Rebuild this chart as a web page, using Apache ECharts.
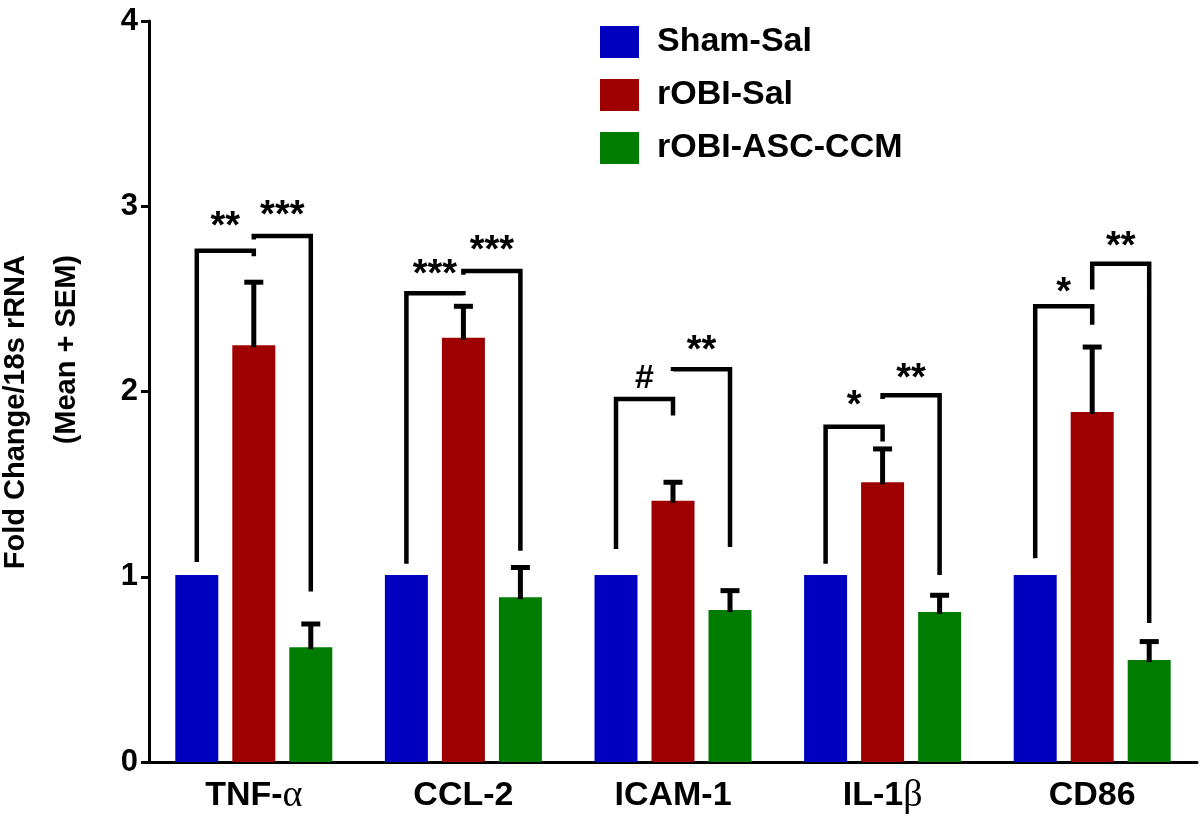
<!DOCTYPE html>
<html>
<head>
<meta charset="utf-8">
<script src="https://cdn.jsdelivr.net/npm/echarts@6/dist/echarts.min.js"></script>
<style>html,body{margin:0;padding:0;background:#fff}#c{width:1200px;height:820px}</style>
</head>
<body>
<div id="c"></div>
<script>
// ---------- data ----------
const categories = ['TNF-α', 'CCL-2', 'ICAM-1', 'IL-1β', 'CD86'];
const seriesNames = ['Sham-Sal', 'rOBI-Sal', 'rOBI-ASC-CCM'];
const shamSal = [1.01, 1.01, 1.01, 1.01, 1.01];
const robiSal = [2.25, 2.29, 1.41, 1.51, 1.89];
const robiSalSEM = [0.34, 0.17, 0.10, 0.18, 0.35];
const robiCCM = [0.62, 0.89, 0.82, 0.81, 0.55];
const robiCCMSEM = [0.125, 0.16, 0.105, 0.09, 0.10];
const yTicks = [0, 1, 2, 3, 4];

// significance brackets: Sham-Sal vs rOBI-Sal
const br1Top = [2.76, 2.53, 1.96, 1.81, 2.46];
const br1LegL = [1.08, 1.07, 1.15, 1.07, 1.10];
const br1LegR = [2.73, 2.52, 1.87, 1.73, 2.36];
const br1Label = ['**', '***', '#', '*', '*'];
const br1LabelY = [2.93, 2.67, 2.07, 1.96, 2.57];
// rOBI-Sal vs rOBI-ASC-CCM
const br2Top = [2.84, 2.65, 2.12, 1.98, 2.69];
const br2LegL = [2.82, 2.63, 2.11, 1.96, 2.55];
const br2LegR = [0.92, 1.14, 1.16, 1.01, 0.75];
const br2Label = ['***', '***', '**', '**', '**'];
const br2LabelY = [2.99, 2.80, 2.26, 2.11, 2.82];

// ---------- style ----------
const FONT = '"Liberation Sans", Arial, sans-serif';
const COLORS = ['#0000BF', '#9E0000', '#007D00'];
const BAR_W = 43, BAR_GAP = 14, CAP = 19;
const STEP = BAR_W + BAR_GAP;

const chart = echarts.init(document.getElementById('c'), null, {renderer: 'canvas'});

function errorRender(slot, means, sems) {
  return function (params, api) {
    const i = params.dataIndex;
    const base = api.coord([i, means[i]]);
    const top = api.coord([i, means[i] + sems[i]]);
    const x = base[0] + slot * STEP;
    const st = {stroke: '#000', lineWidth: 5, lineCap: 'butt'};
    return {type: 'group', children: [
      {type: 'line', shape: {x1: x, y1: base[1] + 2, x2: x, y2: top[1]}, style: st},
      {type: 'line', shape: {x1: x - CAP / 2, y1: top[1], x2: x + CAP / 2, y2: top[1]}, style: st}
    ]};
  };
}

function labelOffset(txt) { return txt.indexOf('*') >= 0 ? 8 : 0; }

function bracketRender(params, api) {
  const i = params.dataIndex;
  const c = api.coord([i, 0]);
  const xB = c[0] - STEP, xR = c[0], xG = c[0] + STEP;
  const y = v => api.coord([i, v])[1];
  const st = {stroke: '#000', lineWidth: 4.5, fill: null, lineJoin: 'miter', lineCap: 'butt'};
  const txt = (t, x, v) => ({
    type: 'text',
    style: {text: t, x: x, y: y(v) + labelOffset(t), align: 'center', verticalAlign: 'middle',
      fontSize: t.indexOf('*') >= 0 ? 38 : 34, fontWeight: 'bold', fontFamily: FONT, fill: '#000'}
  });
  return {type: 'group', children: [
    {type: 'polyline', shape: {points: [[xB, y(br1LegL[i])], [xB, y(br1Top[i])], [xR, y(br1Top[i])], [xR, y(br1LegR[i])]]}, style: st},
    {type: 'polyline', shape: {points: [[xR, y(br2LegL[i])], [xR, y(br2Top[i])], [xG, y(br2Top[i])], [xG, y(br2LegR[i])]]}, style: st},
    txt(br1Label[i], (xB + xR) / 2, br1LabelY[i]),
    txt(br2Label[i], (xR + xG) / 2, br2LabelY[i])
  ]};
}

const idx = categories.map((_, i) => i);

chart.setOption({
  animation: false,
  backgroundColor: '#fff',
  grid: {left: 149, right: 3, top: 21, bottom: 58, containLabel: false, outerBoundsMode: 'none'},
  legend: {
    orient: 'vertical', left: 595, top: 20, itemWidth: 39, itemHeight: 32, itemGap: 19,
    icon: 'rect', data: seriesNames, selectedMode: false,
    textStyle: {fontSize: 34, fontWeight: 'bold', fontFamily: FONT, color: '#000', lineHeight: 32, padding: [0, 0, 0, 13]}
  },
  xAxis: {
    type: 'category', data: categories,
    axisLine: {lineStyle: {color: '#000', width: 3}},
    axisTick: {alignWithLabel: true, length: 8, lineStyle: {color: '#000', width: 3}},
    axisLabel: {
      margin: 14, interval: 0,
      formatter: function (v) {
        const m = v.match(/^(.*?)([αβ])$/);
        return m ? '{b|' + m[1] + '}{g|' + m[2] + '}' : '{b|' + v + '}';
      },
      rich: {
        b: {fontSize: 34, fontWeight: 'bold', fontFamily: FONT, color: '#000', lineHeight: 40},
        g: {fontSize: 38, fontWeight: 'normal', fontFamily: '"Liberation Serif", "DejaVu Serif", serif', color: '#000', lineHeight: 40}
      }
    }
  },
  yAxis: {
    type: 'value', min: yTicks[0], max: yTicks[yTicks.length - 1], interval: 1,
    axisLine: {show: true, lineStyle: {color: '#000', width: 3}},
    axisTick: {show: true, length: 8, lineStyle: {color: '#000', width: 3}},
    splitLine: {show: false},
    axisLabel: {fontSize: 31, fontWeight: 'bold', fontFamily: FONT, color: '#000', margin: 11}
  },
  graphic: [{
    type: 'text', x: 41, y: 255, rotation: Math.PI / 2,
    style: {text: 'Fold Change/18s rRNA\n(Mean + SEM)', align: 'right', verticalAlign: 'middle',
      fontSize: 29, fontWeight: 'bold', fontFamily: FONT, fill: '#000', lineHeight: 51}
  }],
  series: [
    {name: seriesNames[0], type: 'bar', data: shamSal, barWidth: BAR_W, barGap: (BAR_GAP / BAR_W * 100) + '%', itemStyle: {color: COLORS[0]}},
    {name: seriesNames[1], type: 'bar', data: robiSal, barWidth: BAR_W, barGap: (BAR_GAP / BAR_W * 100) + '%', itemStyle: {color: COLORS[1]}},
    {name: seriesNames[2], type: 'bar', data: robiCCM, barWidth: BAR_W, barGap: (BAR_GAP / BAR_W * 100) + '%', itemStyle: {color: COLORS[2]}},
    {type: 'custom', name: 'err1', data: idx.map(i => [i, robiSal[i] + robiSalSEM[i]]), renderItem: errorRender(0, robiSal, robiSalSEM), z: 5, silent: true},
    {type: 'custom', name: 'err2', data: idx.map(i => [i, robiCCM[i] + robiCCMSEM[i]]), renderItem: errorRender(1, robiCCM, robiCCMSEM), z: 5, silent: true},
    {type: 'custom', name: 'brackets', data: idx.map(i => [i, br2LabelY[i]]), renderItem: bracketRender, z: 6, silent: true}
  ]
});
</script>
</body>
</html>
